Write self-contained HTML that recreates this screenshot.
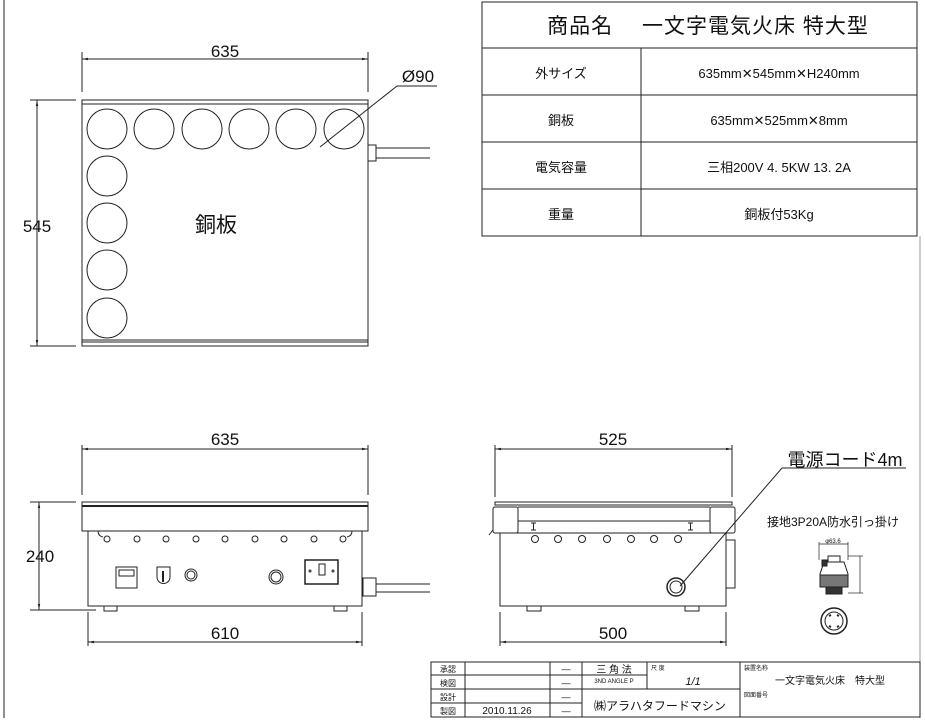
<!DOCTYPE html>
<html><head><meta charset="utf-8"><style>
html,body{margin:0;padding:0;background:#fff;width:925px;height:720px;overflow:hidden}
svg{display:block}
text{font-family:"Liberation Sans","Noto Sans CJK JP",sans-serif;fill:#111}
</style></head><body>
<svg width="925" height="720" viewBox="0 0 925 720" xmlns="http://www.w3.org/2000/svg">
<defs>
<marker id="a" viewBox="0 0 10 10" refX="10" refY="5" markerWidth="6" markerHeight="6" orient="auto-start-reverse"><path d="M0,3 L10,5 L0,7z" fill="#222"/></marker>
</defs>
<g stroke="#222" fill="none" stroke-width="1">
<line x1="4" y1="0" x2="4" y2="718"/>
<line x1="920" y1="236" x2="920" y2="718" stroke="#999"/>
<line x1="431" y1="717" x2="920" y2="717" stroke="#999"/>

<rect x="482" y="2" width="435" height="234"/>
<line x1="482" y1="48" x2="917" y2="48"/>
<line x1="482" y1="95" x2="917" y2="95"/>
<line x1="482" y1="142" x2="917" y2="142"/>
<line x1="482" y1="189" x2="917" y2="189"/>
<line x1="641" y1="48" x2="641" y2="236"/>

<line x1="82" y1="52" x2="82" y2="92"/>
<line x1="368" y1="52" x2="368" y2="92"/>
<line x1="82" y1="59" x2="368" y2="59" marker-start="url(#a)" marker-end="url(#a)"/>
<line x1="30" y1="100" x2="76" y2="100"/>
<line x1="30" y1="346" x2="76" y2="346"/>
<line x1="37" y1="100" x2="37" y2="346" marker-start="url(#a)" marker-end="url(#a)"/>
<rect x="82" y="100" width="286" height="246"/>
<line x1="82" y1="104" x2="368" y2="104"/>
<line x1="82" y1="340" x2="368" y2="340"/>
<line x1="82" y1="342" x2="368" y2="342"/>
<circle cx="107" cy="129" r="20"/><circle cx="154" cy="129" r="20"/><circle cx="202" cy="129" r="20"/>
<circle cx="249" cy="129" r="20"/><circle cx="296" cy="129" r="20"/><circle cx="344" cy="129" r="20"/>
<circle cx="107" cy="176" r="20"/><circle cx="107" cy="223" r="20"/><circle cx="107" cy="270" r="20"/><circle cx="107" cy="318" r="20"/>
<line x1="320" y1="147" x2="397" y2="86"/>
<line x1="397" y1="86" x2="437" y2="86"/>
<rect x="368" y="145" width="8" height="16"/>
<line x1="376" y1="148" x2="430" y2="148"/>
<line x1="376" y1="158" x2="430" y2="158"/>

<line x1="82" y1="445" x2="82" y2="495"/>
<line x1="368" y1="445" x2="368" y2="495"/>
<line x1="82" y1="449" x2="368" y2="449" marker-start="url(#a)" marker-end="url(#a)"/>
<line x1="30" y1="502" x2="76" y2="502"/>
<line x1="30" y1="610" x2="96" y2="610"/>
<line x1="39" y1="502" x2="39" y2="610" marker-start="url(#a)" marker-end="url(#a)"/>
<rect x="82" y="502" width="286" height="29"/>
<line x1="82" y1="506" x2="368" y2="506" stroke-width="2"/>
<rect x="88" y="531" width="274" height="75"/>
<path d="M98,531 q0,5 5,6 M352,531 q0,5 -5,6"/>
<g>
<circle cx="107" cy="539" r="3"/><circle cx="137" cy="539" r="3"/><circle cx="166" cy="539" r="3"/>
<circle cx="196" cy="539" r="3"/><circle cx="225" cy="539" r="3"/><circle cx="255" cy="539" r="3"/>
<circle cx="284" cy="539" r="3"/><circle cx="314" cy="539" r="3"/><circle cx="343" cy="539" r="3"/>
</g>
<rect x="104" y="606" width="13" height="5"/><rect x="334" y="606" width="13" height="5"/>
<rect x="116" y="567" width="21" height="21"/><rect x="119" y="570" width="15" height="6"/>
<path d="M157,567 h13 v10 a6.5,6.5 0 0 1 -13,0z"/><line x1="163" y1="571" x2="163" y2="582" stroke-width="2"/>
<circle cx="191" cy="575" r="6"/><circle cx="191" cy="575" r="4"/>
<circle cx="276" cy="577" r="7"/><circle cx="276" cy="577" r="5"/>
<rect x="305" y="560" width="33" height="24" stroke-width="1.5"/><rect x="319" y="564" width="6" height="11"/>
<circle cx="310" cy="571" r="1"/><circle cx="333" cy="571" r="1"/>
<rect x="363" y="578" width="13" height="18"/>
<line x1="376" y1="584" x2="430" y2="584"/><line x1="376" y1="592" x2="430" y2="592"/>
<line x1="88" y1="612" x2="88" y2="646"/><line x1="362" y1="612" x2="362" y2="646"/>
<line x1="88" y1="642" x2="362" y2="642" marker-start="url(#a)" marker-end="url(#a)"/>

<line x1="495" y1="445" x2="495" y2="497"/>
<line x1="732" y1="445" x2="732" y2="497"/>
<line x1="495" y1="449" x2="732" y2="449" marker-start="url(#a)" marker-end="url(#a)"/>
<rect x="495" y="502" width="237" height="3"/>
<rect x="493" y="507" width="25" height="26" rx="2"/>
<rect x="710" y="507" width="25" height="26" rx="2"/>
<line x1="518" y1="507" x2="710" y2="507"/><line x1="518" y1="521" x2="710" y2="521"/>
<path d="M531,523 h5 M533.5,523 v7 M531,530 h5 M688,523 h5 M690.5,523 v7 M688,530 h5"/>
<path d="M493,530 l-4,5"/>
<rect x="500" y="533" width="226" height="73"/>
<circle cx="535" cy="539" r="3.5"/><circle cx="558" cy="539" r="3.5"/><circle cx="582" cy="539" r="3.5"/>
<circle cx="607" cy="539" r="3.5"/><circle cx="631" cy="539" r="3.5"/><circle cx="654" cy="539" r="3.5"/><circle cx="678" cy="539" r="3.5"/>
<rect x="726" y="540" width="9" height="48"/>
<circle cx="676" cy="587" r="9" stroke-width="1.5"/><circle cx="676" cy="587" r="6"/>
<rect x="527" y="606" width="14" height="5"/><rect x="685" y="606" width="14" height="5"/>
<line x1="680" y1="586" x2="782" y2="468"/><line x1="782" y1="468" x2="906" y2="468"/>
<line x1="500" y1="612" x2="500" y2="646"/><line x1="726" y1="612" x2="726" y2="646"/>
<line x1="500" y1="642" x2="726" y2="642" marker-start="url(#a)" marker-end="url(#a)"/>

<line x1="819" y1="544" x2="848" y2="544" stroke-width="0.7"/>
<line x1="819" y1="542" x2="819" y2="560" stroke-width="0.7"/><line x1="848" y1="542" x2="848" y2="560" stroke-width="0.7"/>
<rect x="828" y="556" width="12" height="6"/>
<path d="M824,562 h20 l4,12 v13 h-28 v-13z"/>
<rect x="820" y="575" width="28" height="12" fill="#777"/>
<rect x="826" y="587" width="16" height="7" fill="#333"/>
<rect x="822" y="560" width="5" height="6" fill="#333"/>
<line x1="848" y1="556" x2="863" y2="556" stroke-width="0.7"/><line x1="848" y1="593" x2="863" y2="593" stroke-width="0.7"/>
<line x1="860" y1="556" x2="860" y2="593" stroke-width="0.7"/>
<circle cx="834" cy="621" r="13" stroke-width="1.5"/><circle cx="834" cy="621" r="9"/>
<path d="M829,616 l2,-1 M839,616 l-2,-1 M829,626 l2,1 M839,626 l-2,1" stroke-width="2"/>

<rect x="431" y="662" width="489" height="55"/>
<line x1="431" y1="675" x2="647" y2="675"/>
<line x1="431" y1="689" x2="740" y2="689"/>
<line x1="431" y1="703" x2="582" y2="703"/>
<line x1="465" y1="662" x2="465" y2="717"/>
<line x1="550" y1="662" x2="550" y2="717"/>
<line x1="582" y1="662" x2="582" y2="717"/>
<line x1="647" y1="662" x2="647" y2="689"/>
<line x1="740" y1="662" x2="740" y2="717"/>
</g>

<g text-anchor="middle">
<text x="708" y="33" font-size="21" letter-spacing="1">商品名　 一文字電気火床  特大型</text>
<text x="561" y="78" font-size="13">外サイズ</text>
<text x="779" y="78" font-size="13">635mm✕545mm✕H240mm</text>
<text x="561" y="125" font-size="13">銅板</text>
<text x="779" y="125" font-size="13">635mm✕525mm✕8mm</text>
<text x="561" y="172" font-size="13">電気容量</text>
<text x="779" y="172" font-size="13">三相200V  4. 5KW  13. 2A</text>
<text x="561" y="219" font-size="13">重量</text>
<text x="779" y="219" font-size="13">銅板付53Kg</text>

<text x="225" y="57" font-size="17">635</text>
<text x="37" y="232" font-size="17">545</text>
<text x="418" y="82" font-size="17">Ø90</text>
<text x="216" y="232" font-size="21">銅板</text>

<text x="225" y="445" font-size="17">635</text>
<text x="40" y="562" font-size="17">240</text>
<text x="225" y="639" font-size="17">610</text>

<text x="613" y="445" font-size="17">525</text>
<text x="613" y="639" font-size="17">500</text>
<text x="845" y="466" font-size="18">電源コード4m</text>
<text x="833" y="526" font-size="12">接地3P20A防水引っ掛け</text>
<text x="833" y="543" font-size="6">φ63.6</text>

<text x="448" y="672" font-size="8">承認</text>
<text x="448" y="686" font-size="8">検図</text>
<text x="448" y="700" font-size="8">設計</text>
<text x="448" y="714" font-size="8">製図</text>
<text x="507" y="714" font-size="10">2010.11.26</text>
<text x="566" y="672" font-size="9">—</text><text x="566" y="686" font-size="9">—</text>
<text x="566" y="700" font-size="9">—</text><text x="566" y="714" font-size="9">—</text>
<text x="614" y="673" font-size="10">三 角 法</text>
<text x="614" y="683" font-size="6">3ND ANGLE P</text>
<text x="693" y="685" font-size="11" font-style="italic">1/1</text>
<text x="660" y="710" font-size="12">㈱アラハタフードマシン</text>
<text x="830" y="684" font-size="10">一文字電気火床　特大型</text>
</g>
<text x="651" y="670" font-size="6">尺 度</text>
<text x="744" y="670" font-size="6">装置名称</text>
<text x="744" y="697" font-size="6">図面番号</text>
</svg>
</body></html>
